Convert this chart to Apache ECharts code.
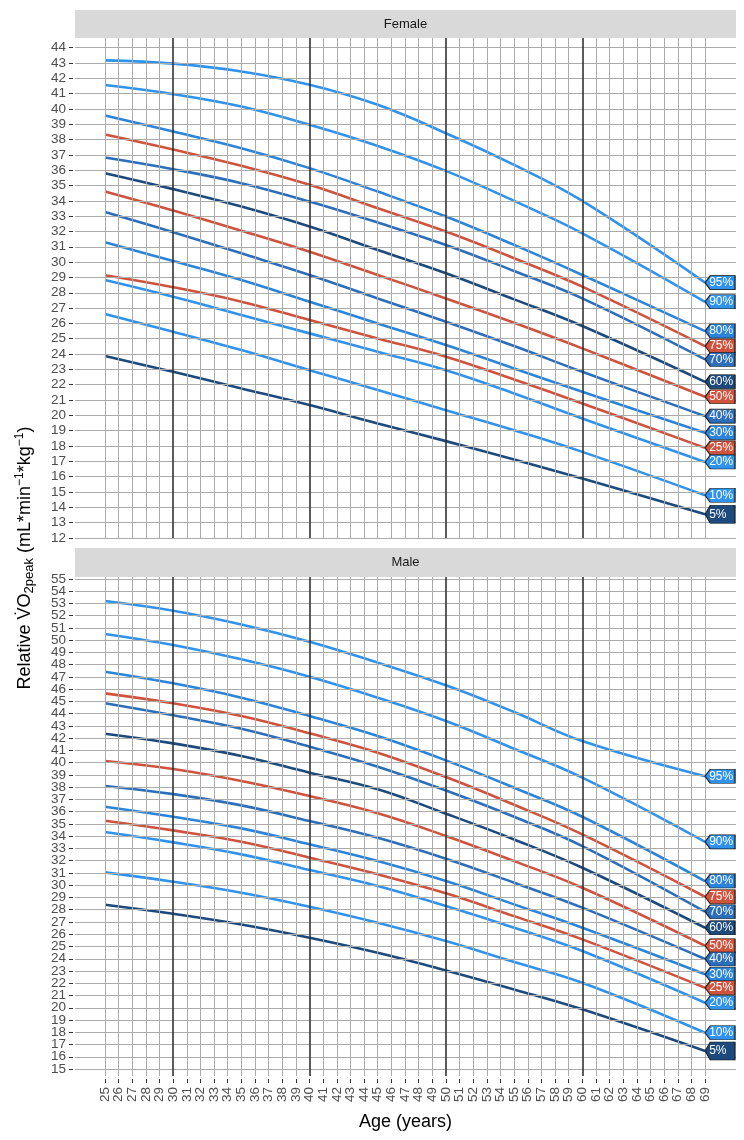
<!DOCTYPE html>
<html><head><meta charset="utf-8">
<script src="https://cdn.jsdelivr.net/npm/echarts@6/dist/echarts.min.js"></script>
<style>html,body{margin:0;padding:0;background:#fff}#c{width:744px;height:1140px}</style>
</head><body><div id="c"></div>
<script>
// ---- data ----
const ages = [25, 30, 35, 40, 45, 50, 55, 60, 69];
const percentiles = ['95%','90%','80%','75%','70%','60%','50%','40%','30%','25%','20%','10%','5%'];

const female95 = [43.16, 42.95, 42.44, 41.57, 40.26, 38.41, 36.34, 33.99, 28.66];
const female90 = [41.55, 40.96, 40.15, 38.96, 37.58, 35.95, 33.99, 31.88, 27.41];
const female80 = [39.56, 38.52, 37.43, 36.13, 34.60, 32.97, 31.12, 29.16, 25.50];
const female75 = [38.32, 37.34, 36.28, 35.04, 33.51, 31.99, 30.25, 28.40, 24.52];
const female70 = [36.82, 36.06, 35.15, 33.95, 32.58, 31.12, 29.42, 27.63, 23.65];
const female60 = [35.80, 34.76, 33.62, 32.32, 30.79, 29.27, 27.57, 25.83, 22.19];
const female50 = [34.60, 33.36, 32.05, 30.68, 29.16, 27.63, 26.04, 24.37, 21.21];
const female40 = [33.27, 31.95, 30.57, 29.16, 27.63, 26.11, 24.52, 22.84, 19.95];
const female30 = [31.29, 30.07, 28.83, 27.42, 26.00, 24.59, 23.06, 21.54, 18.86];
const female25 = [29.14, 28.36, 27.42, 26.22, 25.02, 23.83, 22.34, 20.78, 17.88];
const female20 = [28.83, 27.74, 26.55, 25.35, 24.15, 22.95, 21.43, 19.80, 16.96];
const female10 = [26.61, 25.46, 24.26, 22.95, 21.65, 20.34, 19.03, 17.62, 14.79];
const female5  = [23.87, 22.84, 21.76, 20.67, 19.47, 18.32, 17.12, 15.88, 13.55];

const male95 = [53.20, 52.41, 51.29, 49.88, 48.17, 46.32, 44.14, 41.77, 38.90];
const male90 = [50.51, 49.61, 48.44, 47.02, 45.31, 43.40, 41.14, 38.78, 33.54];
const male80 = [47.43, 46.48, 45.31, 43.81, 42.18, 40.19, 37.96, 35.59, 30.34];
const male75 = [45.66, 44.85, 43.81, 42.40, 40.82, 38.83, 36.57, 34.15, 29.06];
const male70 = [44.85, 43.87, 42.78, 41.31, 39.68, 37.74, 35.59, 33.20, 27.84];
const male60 = [42.37, 41.58, 40.55, 39.19, 37.83, 35.84, 33.74, 31.43, 26.53];
const male50 = [40.14, 39.49, 38.51, 37.28, 35.87, 34.02, 31.97, 29.80, 25.06];
const male40 = [38.10, 37.44, 36.52, 35.24, 33.88, 32.17, 30.21, 28.17, 23.98];
const male30 = [36.41, 35.59, 34.64, 33.34, 31.97, 30.34, 28.44, 26.53, 22.73];
const male25 = [35.27, 34.48, 33.55, 32.25, 30.89, 29.34, 27.48, 25.58, 21.63];
const male20 = [34.34, 33.50, 32.52, 31.24, 29.93, 28.30, 26.53, 24.63, 20.41];
const male10 = [31.05, 30.29, 29.39, 28.25, 26.94, 25.44, 23.73, 22.04, 17.96];
const male5  = [28.41, 27.67, 26.80, 25.72, 24.49, 23.05, 21.50, 19.87, 16.47];

const xTicks = [25,26,27,28,29,30,31,32,33,34,35,36,37,38,39,40,41,42,43,44,45,46,47,48,49,50,51,52,53,54,55,56,57,58,59,60,61,62,63,64,65,66,67,68,69];
const femaleTicks = [12,13,14,15,16,17,18,19,20,21,22,23,24,25,26,27,28,29,30,31,32,33,34,35,36,37,38,39,40,41,42,43,44];
const maleTicks = [15,16,17,18,19,20,21,22,23,24,25,26,27,28,29,30,31,32,33,34,35,36,37,38,39,40,41,42,43,44,45,46,47,48,49,50,51,52,53,54,55];
const decadeLines = [30, 40, 50, 60];
const panelNames = ['Female', 'Male'];

// ---- styling ----
const femaleSeries = [female95,female90,female80,female75,female70,female60,female50,female40,female30,female25,female20,female10,female5];
const maleSeries = [male95,male90,male80,male75,male70,male60,male50,male40,male30,male25,male20,male10,male5];
const DODGER = '#2F93EE', MID1 = '#2A84DA', MID2 = '#2B6EBB', NAVY = '#1C4A7C', RED = '#CF523D';
const pctColor = {'95%':DODGER,'90%':DODGER,'80%':MID1,'75%':RED,'70%':MID2,'60%':NAVY,'50%':RED,'40%':MID2,'30%':MID1,'25%':RED,'20%':DODGER,'10%':DODGER,'5%':NAVY};
const FONT = '"Liberation Sans", Arial, sans-serif';
const GRIDC = '#ABABAB';
const tagPath = 'path://M0,7 L5,0 L29,0 L29,14 L5,14 Z';

const isOdd = v => v % 2 === 1;
const isEven = v => v % 2 === 0;

function gridSeries(k, yTicks) {
  const lines = [];
  yTicks.forEach(v => lines.push({yAxis: v, lineStyle: {color: GRIDC, width: 1, type: 'solid'}}));
  xTicks.forEach(a => {
    const major = decadeLines.indexOf(a) >= 0;
    lines.push({xAxis: a, lineStyle: major ? {color: '#333333', width: 1.6, type: 'solid'} : {color: GRIDC, width: 1, type: 'solid'}});
  });
  return {
    type: 'line', xAxisIndex: k, yAxisIndex: k, data: [], z: 1, silent: true,
    markLine: {silent: true, symbol: ['none','none'], animation: false, label: {show: false},
      emphasis: {disabled: true}, data: lines}
  };
}

function curveSeries(k, arrs) {
  return arrs.map((vals, i) => {
    const pct = percentiles[i];
    const col = pctColor[pct];
    const last = vals.length - 1;
    const tall = pct === '5%';
    return {
      type: 'line', name: panelNames[k] + ' ' + pct, xAxisIndex: k, yAxisIndex: k,
      data: ages.map((a, j) => [a, vals[j]]),
      smooth: 0.4, showSymbol: false, z: 3, animation: false,
      lineStyle: {color: col, width: 2.6},
      markPoint: {
        animation: false, silent: true,
        symbol: tall ? 'path://M0,9 L5,0 L29,0 L29,18 L5,18 Z' : tagPath,
        symbolSize: tall ? [30, 18] : [30, 14], symbolKeepAspect: false, symbolOffset: [15, 0],
        itemStyle: {color: col, borderColor: '#111111', borderWidth: 0.8},
        label: {show: true, formatter: pct, color: '#FFFFFF', fontSize: 12, fontFamily: FONT,
          position: ['15%', '50%'], align: 'left', verticalAlign: 'middle'},
        data: [{coord: [ages[last], vals[last]]}]
      }
    };
  });
}

const lab = {color: '#4D4D4D', fontSize: 13.5, fontFamily: FONT, showMinLabel: true, showMaxLabel: true};
const tickStyle = {color: '#333333', width: 1};

function xBottom(values) {
  return {type: 'value', gridIndex: 1, position: 'bottom', min: 22.8, max: 71.27, offset: 3, axisLine: {show: false},
    axisTick: {show: true, customValues: values, length: 4, lineStyle: tickStyle},
    axisLabel: Object.assign({customValues: values, rotate: 90, margin: 8}, lab),
    splitLine: {show: false}};
}
function yLeft(grid, min, max, values) {
  return {type: 'value', gridIndex: grid, position: 'left', min: min, max: max, offset: 2, axisLine: {show: false},
    axisTick: {show: true, customValues: values, length: 4, lineStyle: tickStyle},
    axisLabel: Object.assign({customValues: values, margin: 7}, lab),
    splitLine: {show: false}};
}

const option = {
  backgroundColor: '#FFFFFF',
  animation: false,
  grid: [
    {left: 75, top: 38, width: 661, height: 500},
    {left: 75, top: 577, width: 661, height: 499}
  ],
  xAxis: [
    {type: 'value', gridIndex: 0, position: 'bottom', min: 22.8, max: 71.27, axisLine: {show: false}, axisTick: {show: false},
      axisLabel: {show: false}, splitLine: {show: false}},
    xBottom(xTicks.filter(isOdd)),
    xBottom(xTicks.filter(isEven))
  ],
  yAxis: [
    yLeft(0, 12, 44.62, femaleTicks),
    yLeft(1, 14.43, 55.16, maleTicks.filter(isOdd)),
    yLeft(1, 14.43, 55.16, maleTicks.filter(isEven))
  ],
  graphic: [
    {type: 'rect', shape: {x: 75, y: 10, width: 661, height: 28}, style: {fill: '#D9D9D9'}, z: 0},
    {type: 'rect', shape: {x: 75, y: 548, width: 661, height: 29}, style: {fill: '#D9D9D9'}, z: 0},
    {type: 'text', x: 405.5, y: 24, style: {text: panelNames[0], fill: '#1A1A1A', font: '13px ' + FONT, align: 'center', verticalAlign: 'middle', textAlign: 'center', textVerticalAlign: 'middle'}},
    {type: 'text', x: 405.5, y: 562.5, style: {text: panelNames[1], fill: '#1A1A1A', font: '13px ' + FONT, align: 'center', verticalAlign: 'middle', textAlign: 'center', textVerticalAlign: 'middle'}},
    {type: 'text', x: 405.5, y: 1122, style: {text: 'Age (years)', fill: '#000000', font: '18px ' + FONT, align: 'center', verticalAlign: 'middle', textAlign: 'center', textVerticalAlign: 'middle'}},
    {type: 'text', x: 25, y: 558, rotation: Math.PI / 2,
      style: {
        text: '{a|Relative V\u0307O}{b|2peak}{a| (mL*min}{c|\u22121}{a|*kg}{c|\u22121}{a|)}',
        align: 'center', verticalAlign: 'middle', textAlign: 'center', textVerticalAlign: 'middle',
        fill: '#000000',
        rich: {
          a: {fontSize: 18, fontFamily: FONT, lineHeight: 22, verticalAlign: 'middle', fill: '#000', color: '#000'},
          b: {fontSize: 13, fontFamily: FONT, lineHeight: 12, verticalAlign: 'bottom', fill: '#000', color: '#000'},
          c: {fontSize: 12, fontFamily: FONT, lineHeight: 12, verticalAlign: 'top', fill: '#000', color: '#000'}
        }
      }}
  ],
  series: [].concat(
    [gridSeries(0, femaleTicks), gridSeries(1, maleTicks)],
    curveSeries(0, femaleSeries),
    curveSeries(1, maleSeries)
  )
};

const chart = echarts.init(document.getElementById('c'), null, {renderer: 'canvas'});
chart.setOption(option);
</script>
</body></html>
